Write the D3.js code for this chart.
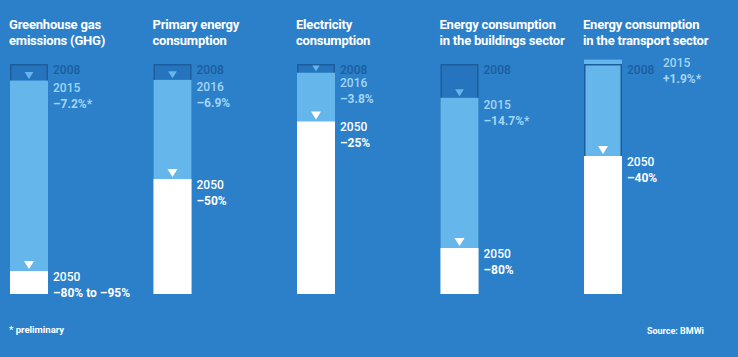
<!DOCTYPE html>
<html>
<head>
<meta charset="utf-8">
<script src="https://cdn.jsdelivr.net/npm/d3@7"></script>
<style>
  html, body { margin: 0; padding: 0; background: #2b80c9; }
  svg { display: block; }
  text { font-family: Roboto, "DejaVu Sans", sans-serif; }
</style>
</head>
<body>
<svg id="chart" width="738" height="357"></svg>
<script>
// ---- data ----
const titleLines = [
  ["Greenhouse gas", "emissions (GHG)"],
  ["Primary energy", "consumption"],
  ["Electricity", "consumption"],
  ["Energy consumption", "in the buildings sector"],
  ["Energy consumption", "in the transport sector"]
];
const baseYear = "2008";
const currentYears = ["2015", "2016", "2016", "2015", "2015"];
const currentChange = [-7.2, -6.9, -3.8, -14.7, 1.9];
const currentLabels = ["\u20137.2%*", "\u20136.9%", "\u20133.8%", "\u201314.7%*", "+1.9%*"];
const targetYear = "2050";
const targetChange = [-90, -50, -25, -80, -40];
const targetLabels = ["\u201380% to \u201395%", "\u201350%", "\u201325%", "\u201380%", "\u201340%"];
const footnote = "* preliminary";
const source = "Source: BMWi";

// ---- styles ----
const C = {
  bg: "#2b80c9",
  box: "#2574bd",
  boxStroke: "#1c5d9d",
  light: "#65b6ea",
  dark: "#1c5d9d",
  lightText: "#a3d6f6",
  white: "#ffffff"
};

const svg = d3.select("#chart");
svg.append("rect").attr("width", 738).attr("height", 357).attr("fill", C.bg);

const idx = d3.range(titleLines.length);
const x = d3.scaleBand().domain(idx).range([10, 622]).paddingInner(1 - 38 / 143.5).paddingOuter(0);
const y = d3.scaleLinear().domain([0, 100]).range([294, 64]);
const bw = x.bandwidth();

function tri(cx, apexY, h, w) {
  return `M${cx - w / 2},${apexY - h}L${cx + w / 2},${apexY - h}L${cx},${apexY}Z`;
}

const g = svg.selectAll("g.col").data(idx).join("g").attr("class", "col");

// titles
g.each(function (i) {
  const t = d3.select(this).append("text")
    .attr("x", x(i) - 1)
    .attr("fill", C.white)
    .attr("font-size", 13)
    .attr("font-weight", 700)
    .attr("letter-spacing", -0.2);
  titleLines[i].forEach((line, k) => {
    t.append("tspan").attr("x", x(i) - 1).attr("y", 28.5 + k * 16).text(line);
  });
});

// 2008 box (behind)
g.append("rect")
  .attr("x", i => x(i) + 0.75)
  .attr("y", y(100) + 0.75)
  .attr("width", bw - 1.5)
  .attr("height", y(0) - y(100) - 1.5)
  .attr("fill", C.box)
  .attr("stroke", C.boxStroke)
  .attr("stroke-width", 1.5);

// current (light blue)
g.append("rect")
  .attr("x", i => x(i))
  .attr("y", i => y(100 + currentChange[i]))
  .attr("width", bw)
  .attr("height", i => y(0) - y(100 + currentChange[i]))
  .attr("fill", C.light);

// box outline on top where current exceeds base
g.filter(i => currentChange[i] > 0).append("rect")
  .attr("x", i => x(i) + 0.75)
  .attr("y", y(100) + 0.75)
  .attr("width", bw - 1.5)
  .attr("height", y(0) - y(100) - 1.5)
  .attr("fill", "none")
  .attr("stroke", C.boxStroke)
  .attr("stroke-width", 1.5);

// 2050 (white)
g.append("rect")
  .attr("x", i => x(i))
  .attr("y", i => y(100 + targetChange[i]))
  .attr("width", bw)
  .attr("height", i => y(0) - y(100 + targetChange[i]))
  .attr("fill", C.white);

// triangles: light in 2008 box pointing to current level
g.filter(i => currentChange[i] < 0).append("path")
  .attr("d", i => {
    const gap = y(100 + currentChange[i]) - y(100);
    const h = Math.min(7, gap - 3);
    return tri(x(i) + bw / 2, y(100 + currentChange[i]) - 1.5, h, h * 1.25);
  })
  .attr("fill", C.light);

// white triangles pointing to 2050 level
g.append("path")
  .attr("d", i => tri(x(i) + bw / 2, y(100 + targetChange[i]) - 2, 8, 10))
  .attr("fill", C.white);

// labels
const lx = i => x(i) + bw + 5;
g.append("text")
  .attr("x", lx).attr("y", 74)
  .attr("fill", C.dark).attr("font-size", 12).attr("font-weight", 500)
  .text(baseYear);

g.each(function (i) {
  const sel = d3.select(this);
  let tx, ty;
  if (currentChange[i] > 0) {
    tx = lx(i) + 36; ty = 67;
  } else {
    tx = lx(i); ty = Math.max(y(100 + currentChange[i]) + 11, 87);
  }
  sel.append("text").attr("x", tx).attr("y", ty)
    .attr("fill", C.lightText).attr("font-size", 12).attr("font-weight", 500)
    .text(currentYears[i]);
  sel.append("text").attr("x", tx).attr("y", ty + 16)
    .attr("fill", C.lightText).attr("font-size", 12).attr("font-weight", 700)
    .text(currentLabels[i]);

  const wy = y(100 + targetChange[i]) + 9.5;
  sel.append("text").attr("x", lx(i)).attr("y", wy)
    .attr("fill", C.white).attr("font-size", 12).attr("font-weight", 500)
    .text(targetYear);
  sel.append("text").attr("x", lx(i)).attr("y", wy + 16)
    .attr("fill", C.white).attr("font-size", 12).attr("font-weight", 700)
    .text(targetLabels[i]);
});

svg.append("text").attr("x", 9).attr("y", 333)
  .attr("fill", C.white).attr("font-size", 9.5).attr("font-weight", 700)
  .text(footnote);
svg.append("text").attr("x", 704).attr("y", 334).attr("text-anchor", "end")
  .attr("fill", C.white).attr("font-size", 9).attr("font-weight", 700)
  .text(source);
</script>
</body>
</html>
